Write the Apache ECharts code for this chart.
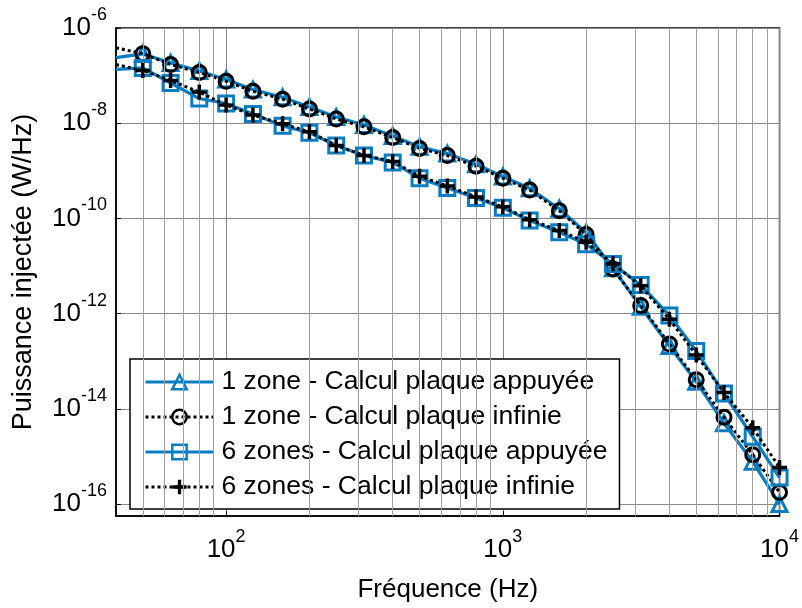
<!DOCTYPE html>
<html>
<head>
<meta charset="utf-8">
<script src="https://cdn.jsdelivr.net/npm/echarts@6/dist/echarts.min.js"></script>
<style>
  html, body { margin: 0; padding: 0; background: #fff; }
  #chart { width: 802px; height: 608px; }
</style>
</head>
<body>
<div id="chart"></div>
<script>
// third-octave frequencies (Hz); first point only starts the line at the left edge
const freqs = [40, 50, 63, 80, 100, 125, 160, 200, 250, 315, 400, 500, 630, 800,
  1000, 1250, 1600, 2000, 2500, 3150, 4000, 5000, 6300, 8000, 10000];

// 1 zone - plaque appuyée (triangles)
const zone1Appuyee = [2.39e-7, 2.85e-7, 1.85e-7, 1.25e-7, 8.3e-8, 5.1e-8, 3.5e-8, 2.2e-8,
  1.35e-8, 9.2e-9, 5.4e-9, 3.2e-9, 2.3e-9, 1.37e-9, 7.6e-10, 4.3e-10, 1.6e-10, 5.0e-11,
  9.0e-12, 1.4e-12, 2.1e-13, 3.7e-14, 5.0e-15, 7.8e-16, 1.0e-16];
// 1 zone - plaque infinie (circles)
const zone1Infinie = [3.84e-7, 2.89e-7, 1.71e-7, 1.16e-7, 7.6e-8, 4.7e-8, 3.2e-8, 2.0e-8,
  1.23e-8, 8.4e-9, 5.0e-9, 2.95e-9, 2.1e-9, 1.25e-9, 7.0e-10, 3.95e-10, 1.45e-10, 4.6e-11,
  8.7e-12, 1.48e-12, 2.3e-13, 4.1e-14, 6.7e-15, 1.09e-15, 1.77e-16];
// 6 zones - plaque appuyée (squares)
const zone6Appuyee = [1.35e-7, 1.45e-7, 7.0e-8, 3.3e-8, 2.6e-8, 1.57e-8, 8.8e-9, 6.3e-9,
  3.4e-9, 2.1e-9, 1.5e-9, 7.0e-10, 4.35e-10, 2.7e-10, 1.68e-10, 9.0e-11, 5.1e-11, 2.86e-11,
  1.1e-11, 4.0e-12, 9.2e-13, 1.65e-13, 2.1e-14, 2.6e-15, 3.6e-16];
// 6 zones - plaque infinie (plus)
const zone6Infinie = [1.71e-7, 1.28e-7, 7.9e-8, 4.5e-8, 2.4e-8, 1.49e-8, 9.7e-9, 6.6e-9,
  3.4e-9, 2.1e-9, 1.58e-9, 7.7e-10, 4.8e-10, 2.83e-10, 1.76e-10, 9.4e-11, 5.6e-11, 3.15e-11,
  1.12e-11, 3.85e-12, 7.6e-13, 1.36e-13, 2.2e-14, 4.0e-15, 5.9e-16];

const seriesNames = [
  '1 zone - Calcul plaque appuyée',
  '1 zone - Calcul plaque infinie',
  '6 zones - Calcul plaque appuyée',
  '6 zones - Calcul plaque infinie'
];

// tick values
const xTicks = [100, 1000, 10000];
const yTicks = [1e-16, 1e-14, 1e-12, 1e-10, 1e-8, 1e-6];
// minor vertical grid lines of the log x axis
const minorFreqs = [50, 60, 70, 80, 90, 200, 300, 400, 500, 600, 700, 800, 900,
  2000, 3000, 4000, 5000, 6000, 7000, 8000, 9000];

const blue = '#0a7dc2';
const plusPath = 'path://M5,0 H8 V5 H13 V8 H8 V13 H5 V8 H0 V5 H5 Z';

function pts(vals) {
  return freqs.map((f, i) => i === 0 ? { value: [f, vals[i]], symbol: 'none' } : [f, vals[i]]);
}

function powLabel(v) {
  const e = Math.log10(v);
  const r = Math.round(e);
  if (Math.abs(e - r) > 0.01) return '';
  return '{b|10}{e|' + r + '}';
}

const rich = {
  b: { fontSize: 26, lineHeight: 44, color: '#000', fontFamily: 'Liberation Sans' },
  e: { fontSize: 18, lineHeight: 18, padding: [0, 0, 26, 0], color: '#000', fontFamily: 'Liberation Sans' }
};

const myChart = echarts.init(document.getElementById('chart'), null, { renderer: 'canvas' });

let series = [
  {
    name: 'grid',
    type: 'line',
    data: [],
    silent: true,
    z: 1,
    markLine: {
      silent: true,
      symbol: 'none',
      label: { show: false },
      lineStyle: { color: '#a0a0a0', width: 1, type: 'solid' },
      data: minorFreqs.map((f) => ({ xAxis: f }))
    }
  },
  {
    name: seriesNames[0],
    type: 'line',
    z: 3,
    data: pts(zone1Appuyee),
    symbol: 'triangle',
    symbolSize: 15,
    lineStyle: { color: blue, width: 3.2 },
    itemStyle: { color: 'rgba(255,255,255,0)', borderColor: blue, borderWidth: 3 }
  },
  {
    name: seriesNames[1],
    type: 'line',
    z: 4,
    data: pts(zone1Infinie),
    symbol: 'circle',
    symbolSize: 14,
    lineStyle: { color: '#000', width: 3, type: [3, 3] },
    itemStyle: { color: 'rgba(255,255,255,0)', borderColor: '#000', borderWidth: 3 }
  },
  {
    name: seriesNames[2],
    type: 'line',
    z: 5,
    data: pts(zone6Appuyee),
    symbol: 'rect',
    symbolSize: 15,
    lineStyle: { color: blue, width: 3.2 },
    itemStyle: { color: 'rgba(255,255,255,0)', borderColor: blue, borderWidth: 3 }
  },
  {
    name: seriesNames[3],
    type: 'line',
    z: 6,
    data: pts(zone6Infinie),
    symbol: plusPath,
    symbolSize: 15,
    lineStyle: { color: '#000', width: 3, type: [3, 3] },
    itemStyle: { color: '#000' }
  }
];

let option = {
  animation: false,
  backgroundColor: '#fff',
  textStyle: { fontFamily: 'Liberation Sans' },
  grid: {
    left: 116, right: 17, top: 28, bottom: 86,
    show: true, borderColor: '#000', borderWidth: 1.5
  },
  legend: {
    data: seriesNames,
    orient: 'vertical',
    left: 130,
    top: 359,
    itemWidth: 68,
    itemHeight: 18,
    itemGap: 5,
    padding: [8, 12, 7, 14],
    backgroundColor: '#fff',
    borderColor: '#000',
    borderWidth: 1.5,
    borderRadius: 0,
    selectedMode: false,
    lineStyle: { width: 3 },
    itemStyle: { borderWidth: 2.5 },
    textStyle: { fontSize: 26.5, lineHeight: 30, color: '#000', fontFamily: 'Liberation Sans', padding: [0, 0, 0, 3] }
  },
  xAxis: {
    type: 'log',
    logBase: 10,
    min: 40,
    max: 10000,
    name: 'Fréquence (Hz)',
    nameLocation: 'middle',
    nameGap: 56,
    nameTextStyle: { fontSize: 26, color: '#000', fontFamily: 'Liberation Sans' },
    axisLine: { lineStyle: { color: '#000', width: 1.5 } },
    axisTick: { inside: true, length: 5, customValues: xTicks, lineStyle: { color: '#000' } },
    axisLabel: { formatter: powLabel, rich: rich, margin: 12, customValues: xTicks },
    splitLine: { show: true, lineStyle: { color: '#888', width: 1 } },
    minorTick: { show: false }
  },
  yAxis: {
    type: 'log',
    logBase: 10,
    min: 5.6e-17,
    max: 1e-6,
    name: 'Puissance injectée (W/Hz)',
    nameLocation: 'middle',
    nameGap: 79,
    nameTextStyle: { fontSize: 27, color: '#000', fontFamily: 'Liberation Sans' },
    axisLine: { lineStyle: { color: '#000', width: 1.5 } },
    axisTick: { inside: true, length: 5, customValues: yTicks, lineStyle: { color: '#000' } },
    axisLabel: { formatter: powLabel, rich: rich, margin: 9, customValues: yTicks },
    splitLine: { show: true, lineStyle: { color: '#888', width: 1 } }
  },
  series
};

option && myChart.setOption(option);
</script>
</body>
</html>
